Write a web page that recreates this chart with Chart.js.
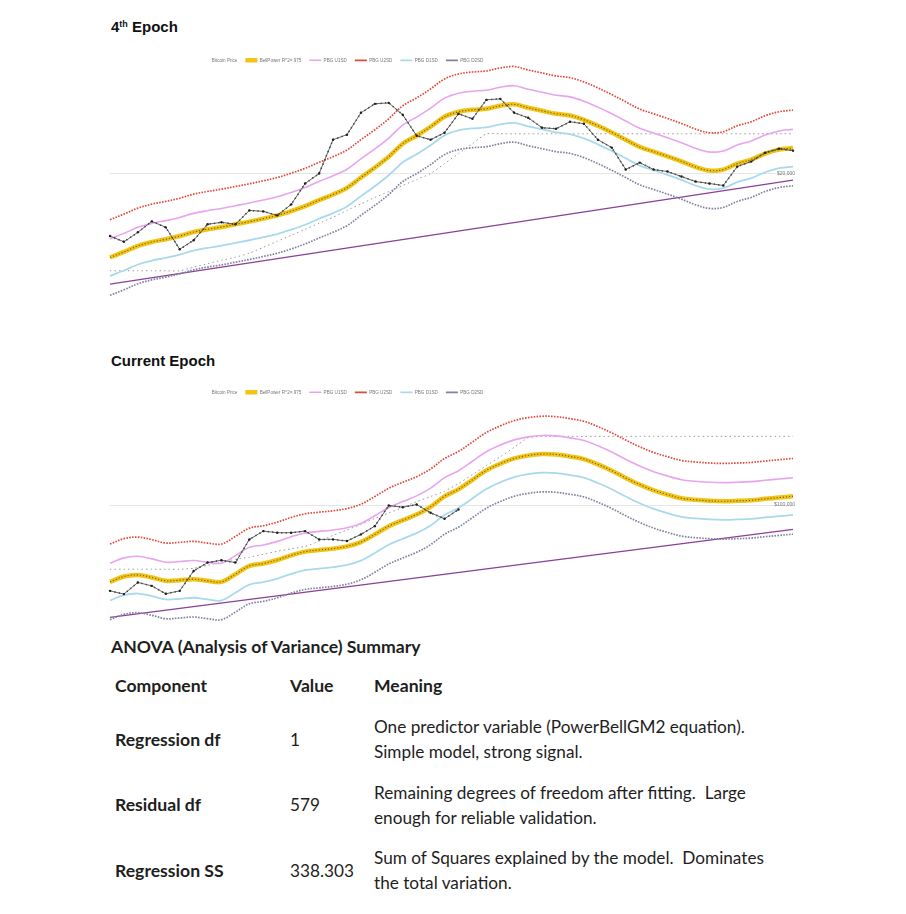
<!DOCTYPE html>
<html>
<head>
<meta charset="utf-8">
<script src="https://cdn.jsdelivr.net/npm/chart.js@4.4.1/dist/chart.umd.min.js"></script>
<style>
html, body { margin: 0; padding: 0; background: #fff; }
body { width: 906px; height: 914px; position: relative; overflow: hidden; font-family: "Liberation Sans", Arial, sans-serif; }
.h { position: absolute; left: 111px; font-weight: bold; font-size: 15px; line-height: 18px; color: #111; }
.h sup { font-size: 9px; vertical-align: top; position: relative; top: -3px; }
.box { position: absolute; left: 100px; width: 706px; }
.t { position: absolute; font-family: Lato, "Open Sans", sans-serif; font-size: 17.2px; line-height: 25px; color: #1e1e1e; white-space: nowrap; }
.b { font-weight: bold; font-size: 17.6px; }
</style>
</head>
<body>

<div class="h" style="top:18px">4<sup>th</sup> Epoch</div>
<div class="box" style="top:50px;height:256px"><canvas id="epoch4"></canvas></div>

<div class="h" style="top:352px">Current Epoch</div>
<div class="box" style="top:382px;height:248px"><canvas id="epochNow"></canvas></div>

<div class="t b" style="left:111px;top:634px">ANOVA (Analysis of Variance) Summary</div>
<div class="t b" style="left:115px;top:673px">Component</div>
<div class="t b" style="left:290px;top:673px">Value</div>
<div class="t b" style="left:374px;top:673px">Meaning</div>

<div class="t b" style="left:115px;top:727px">Regression df</div>
<div class="t" style="left:290px;top:727px">1</div>
<div class="t" style="left:374px;top:714px">One predictor variable (PowerBellGM2 equation).<br>Simple model, strong signal.</div>

<div class="t b" style="left:115px;top:792px">Residual df</div>
<div class="t" style="left:290px;top:792px">579</div>
<div class="t" style="left:374px;top:780px">Remaining degrees of freedom after fitting.&nbsp; Large<br>enough for reliable validation.</div>

<div class="t b" style="left:115px;top:858px">Regression SS</div>
<div class="t" style="left:290px;top:858px">338.303</div>
<div class="t" style="left:374px;top:845px">Sum of Squares explained by the model.&nbsp; Dominates<br>the total variation.</div>

<script>
// sample points along each epoch (x positions are just the sample order)
const steps = [1, 2, 3, 4, 5, 6, 7, 8, 9, 10, 11, 12, 13, 14, 15, 16, 17, 18, 19, 20,
  21, 22, 23, 24, 25, 26, 27, 28, 29, 30, 31, 32, 33, 34, 35, 36, 37, 38, 39, 40,
  41, 42, 43, 44, 45, 46, 47, 48, 49, 50];

// ---- 4th epoch (USD) ----
const e4Btc = [7180, 6530, 7630, 9130, 8280, 5780, 6700, 8700, 8990, 8700, 10930, 10750, 10070, 12060, 16990,
  20000, 34850, 37820, 54160, 62740, 63760, 52400, 37200, 34850, 39060, 53280, 49100, 66980, 68080, 54160,
  49920, 42400, 41700, 46760, 45260, 34850, 30580, 21350, 23940, 21350, 20660, 19040, 17550, 16990, 16440,
  22420, 24330, 28180, 30080, 29120];
const e4Bell = [5050, 5530, 6100, 6510, 6810, 7180, 7670, 8020, 8320, 8700, 9090, 9550, 10070, 10810, 11720,
  12930, 14190, 15830, 18740, 22060, 26390, 32640, 37200, 43090, 50740, 55060, 56860, 57810, 60720, 62220,
  58770, 55960, 53280, 51820, 48310, 43800, 39260, 34850, 30940, 28650, 26540, 24440, 22310, 21000, 21350,
  23540, 25140, 27720, 29610, 30430];
const e4U1 = [6850, 7500, 8280, 8830, 9240, 9740, 10410, 10880, 11290, 11810, 12340, 12960, 13670, 14670, 15900,
  17550, 19260, 21480, 25430, 29940, 35810, 44290, 50480, 58470, 68850, 74720, 77160, 78450, 82400, 84430,
  79750, 75940, 72300, 70320, 65560, 59440, 53280, 47290, 41990, 38880, 36010, 33170, 30280, 28500, 28970,
  31940, 34120, 37620, 40180, 41290];
const e4U2 = [9390, 10290, 11350, 12110, 12670, 13350, 14270, 14920, 15480, 16180, 16910, 17760, 18730, 20110, 21800,
  24050, 26390, 29440, 34860, 41030, 49090, 60710, 69190, 80150, 94380, 102400, 105760, 107500, 112900, 115700,
  109300, 104100, 99100, 96390, 89860, 81470, 73020, 64820, 57550, 53290, 49360, 45460, 41500, 39060, 39710,
  43780, 46760, 51560, 55080, 56600];
const e4D1 = [3720, 4080, 4500, 4800, 5020, 5290, 5650, 5910, 6130, 6410, 6700, 7040, 7420, 7970, 8640,
  9530, 10460, 11670, 13810, 16260, 19450, 24060, 27420, 31760, 37400, 40580, 41910, 42610, 44750, 45860,
  43310, 41240, 39270, 38190, 35600, 32280, 28930, 25680, 22800, 21110, 19560, 18010, 16440, 15480, 15740,
  17350, 18530, 20430, 21820, 22430];
const e4D2 = [2715, 2973, 3279, 3500, 3661, 3860, 4123, 4312, 4473, 4677, 4887, 5134, 5414, 5811, 6301,
  6951, 7629, 8510, 10075, 11860, 14187, 17547, 20000, 23165, 27278, 29600, 30568, 31079, 32643, 33450,
  31595, 30084, 28643, 27858, 25971, 23547, 21106, 18735, 16633, 15402, 14268, 13139, 11994, 11290, 11478,
  12655, 13515, 14902, 15918, 16359];
const e4Clamp = [4060, 4060, 4060, 4060, 4060, 4060, 4310, 4560, 4830, 5070, 5420, 5970, 6590, 7270, 8020,
  8840, 9750, 10930, 12150, 13510, 14900, 16440, 18130, 20000, 23540, 27710, 32610, 38390, 38390, 38390,
  38390, 38390, 38390, 38390, 38390, 38390, 38390, 38390, 38390, 38390, 38390, 38390, 38390, 38390, 38390,
  38390, 38390, 38390, 38390, 38390];
const e4Floor = [3260, 17930];   // straight line, first and last sample

// ---- current epoch (USD) ----
const cuBtc = [24470, 23190, 28070, 26550, 23310, 24470, 33920, 38910, 40410, 38910, 56920, 65200, 63500, 63500, 65200,
  56920, 56920, 55370, 61770, 70730, 99190, 96470, 100800, 88050, 79830, 92920];
const cuBell = [28350, 30960, 31770, 30460, 28820, 29150, 29630, 28820, 28350, 32140, 36810, 38280, 40600, 43830, 46570,
  47800, 48910, 50760, 54470, 61770, 70730, 78020, 85620, 97100, 115400, 129400, 151200, 176600, 197000, 214700,
  225500, 230700, 229200, 221800, 212600, 194700, 175700, 156000, 139800, 127400, 118700, 111700, 108900, 107100, 106400,
  107100, 108100, 110700, 113000, 115400];
const cuU1 = [38470, 42010, 43110, 41330, 39110, 39560, 40210, 39110, 38470, 43610, 49950, 51950, 55090, 59480, 63200,
  64860, 66370, 68880, 73920, 83820, 95980, 105900, 116200, 131800, 156600, 175600, 205200, 239600, 267300, 291300,
  306000, 313100, 311000, 301000, 288500, 264200, 238400, 211700, 189700, 172900, 161100, 151600, 147800, 145300, 144400,
  145300, 146700, 150200, 153300, 156600];
const cuU2 = [52730, 57590, 59090, 56660, 53610, 54220, 55110, 53610, 52730, 59780, 68470, 71200, 75520, 81520, 86620,
  88910, 90970, 94410, 101300, 114900, 131600, 145100, 159300, 180600, 214600, 240700, 281200, 328500, 366400, 399300,
  419400, 429100, 426300, 412500, 395400, 362100, 326800, 290200, 260000, 237000, 220800, 207800, 202600, 199200, 197900,
  199200, 201100, 205900, 210200, 214600];
const cuD1 = [20890, 22820, 23410, 22450, 21240, 21480, 21840, 21240, 20890, 23690, 27130, 28210, 29920, 32300, 34320,
  35230, 36050, 37410, 40140, 45520, 52130, 57500, 63100, 71560, 85050, 95370, 111400, 130200, 145200, 158200,
  166200, 170000, 168900, 163500, 156700, 143500, 129500, 115000, 103000, 93890, 87480, 82320, 80260, 78930, 78420,
  78930, 79670, 81590, 83280, 85050];
const cuD2 = [15240, 16640, 17080, 16380, 15490, 15670, 15930, 15490, 15240, 17280, 19790, 20580, 21830, 23560, 25040,
  25700, 26290, 27290, 29280, 33210, 38020, 41940, 46030, 52200, 62040, 69570, 81290, 94940, 105900, 115400,
  121200, 124000, 123200, 119200, 114300, 104700, 94460, 83870, 75160, 68490, 63810, 60050, 58540, 57580, 57200,
  57580, 58110, 59510, 60750, 62040];
const cuClamp = [34880, 34880, 34880, 34880, 34880, 34880, 35460, 37240, 39110, 41080, 42440, 44570, 46810, 48750, 50760,
  55100, 60770, 66470, 72730, 80230, 87750, 96000, 105900, 114900, 125700, 142000, 164600, 190600, 220800, 257800,
  301000, 308600, 308600, 308600, 308600, 308600, 308600, 308600, 308600, 308600, 308600, 308600, 308600, 308600, 308600,
  308600, 308600, 308600, 308600, 308600];
const cuFloor = [15850, 67020];

// the legend sits left of the plot centre in the original
const legendShift = {
  id: 'legendShift',
  afterLayout(chart, args, opts) {
    const lg = chart.legend;
    if (lg && opts.dx) { lg.left += opts.dx; lg.right += opts.dx; }
  }
};

function series(label, data, color, width, extra) {
  return Object.assign({
    label: label, data: data, borderColor: color, backgroundColor: color,
    borderWidth: width, pointRadius: 0, tension: 0.35, clip: false, order: 3
  }, extra);
}

function epochChart(id, s) {
  const floorPts = [{x: steps[0], y: s.floor[0]}, {x: steps[steps.length - 1], y: s.floor[1]}];
  const datasets = [
    series('Bitcoin Price', s.btc, '#555555', 0.9, {tension: 0, pointRadius: 1.2, pointBorderWidth: 0, pointBackgroundColor: '#1e1e1e', order: 0}),
    series('BellPower R^2=.975', s.bell, '#f2c414', 4.5, {order: 2}),
    series('PBG U1SD', s.u1, '#e8a4ee', 1.6),
    series('PBG U2SD', s.u2, '#de4a3c', 1.7, {borderDash: [1.6, 1.3]}),
    series('PBG D1SD', s.d1, '#a8d9ec', 1.8),
    series('PBG D2SD', s.d2, '#7f839e', 1.7, {borderDash: [1.6, 1.3]}),
    series('', s.btc, '#2a2a2a', 1.5, {tension: 0, borderDash: [1.3, 3.2], order: 0, hideInLegend: true}),
    series('', s.bell, '#6d5c20', 1.1, {borderDash: [1.2, 1.9], order: 1, hideInLegend: true}),
    series('', s.clamp, '#9b9b9b', 1, {borderDash: [1.5, 3], tension: 0.2, order: 4, hideInLegend: true}),
    series('', floorPts, '#8b3f98', 1.3, {tension: 0, order: 4, hideInLegend: true})
  ];

  return new Chart(document.getElementById(id), {
    type: 'line',
    data: { labels: steps, datasets: datasets },
    plugins: [legendShift],
    options: {
      responsive: true,
      maintainAspectRatio: false,
      animation: false,
      layout: { padding: { left: 10, right: 9, top: 0, bottom: 4 } },
      scales: {
        x: { display: false },
        y: {
          type: 'logarithmic',
          position: 'right',
          min: s.min,
          max: s.max,
          afterBuildTicks: ax => { ax.ticks = [{ value: s.grid }]; },
          grid: { color: '#e6e6e6', lineWidth: 1, drawTicks: false },
          border: { display: false },
          ticks: {
            mirror: true, padding: 2, color: '#777',
            font: { size: 5, family: 'Liberation Sans' },
            callback: v => '$' + Number(v).toLocaleString('en-US')
          }
        }
      },
      plugins: {
        legendShift: { dx: -113 },
        tooltip: { enabled: false },
        legend: {
          position: 'top',
          labels: {
            usePointStyle: true, pointStyle: 'line', pointStyleWidth: 12, boxHeight: 4.6,
            padding: 8, color: '#777',
            font: { size: 4.6, family: 'Liberation Sans' },
            filter: (item, data) => !data.datasets[item.datasetIndex].hideInLegend,
            sort: (a, b) => a.datasetIndex - b.datasetIndex
          }
        }
      }
    }
  });
}

epochChart('epoch4', {
  btc: e4Btc, bell: e4Bell, u1: e4U1, u2: e4U2, d1: e4D1, d2: e4D2,
  clamp: e4Clamp, floor: e4Floor, min: 2474, max: 104700, grid: 20000
});

epochChart('epochNow', {
  btc: cuBtc, bell: cuBell, u1: cuU1, u2: cuU2, d1: cuD1, d2: cuD2,
  clamp: cuClamp, floor: cuFloor, min: 13970, max: 519500, grid: 100000
});
</script>
</body>
</html>
